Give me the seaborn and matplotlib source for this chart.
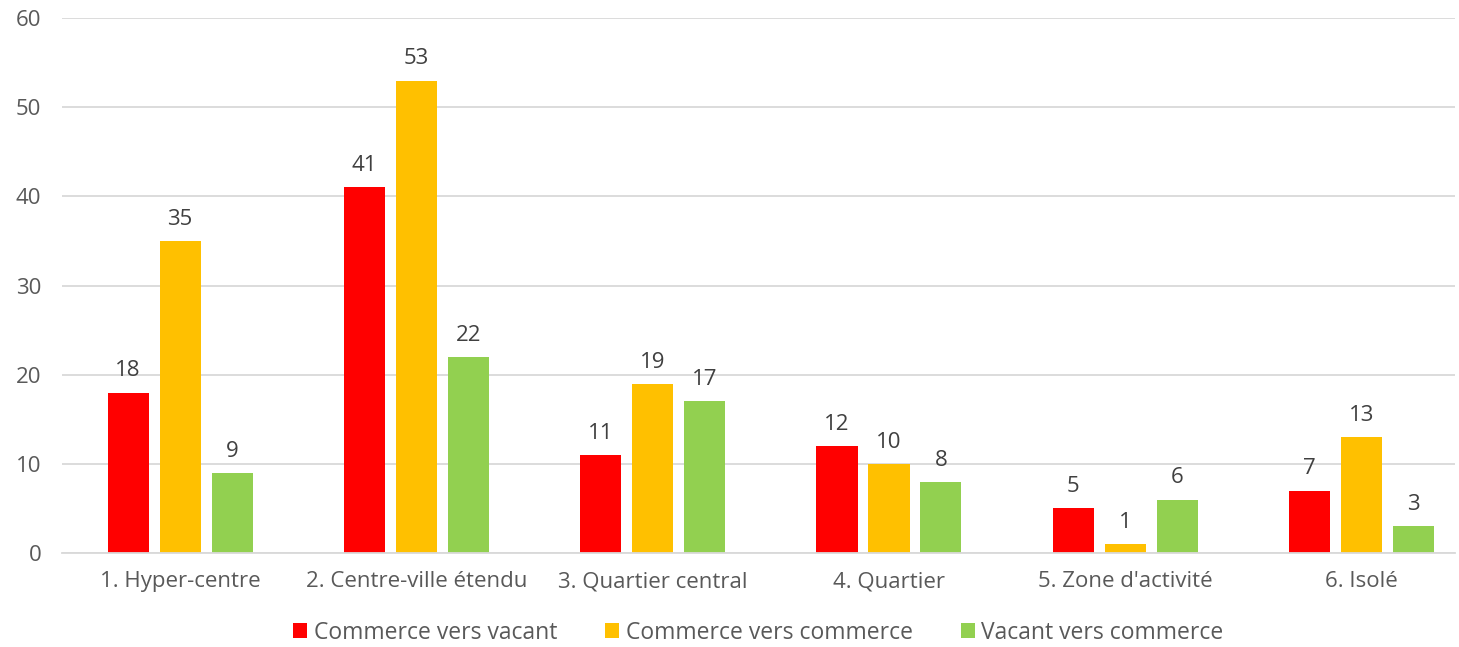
import pandas as pd
import matplotlib.pyplot as plt
import seaborn as sns

categories = ["1. Hyper-centre", "2. Centre-ville étendu", "3. Quartier central",
              "4. Quartier", "5. Zone d'activité", "6. Isolé"]
series_names = ["Commerce vers vacant", "Commerce vers commerce", "Vacant vers commerce"]
commerce_vers_vacant = [18, 41, 11, 12, 5, 7]
commerce_vers_commerce = [35, 53, 19, 10, 1, 13]
vacant_vers_commerce = [9, 22, 17, 8, 6, 3]
colors = ["#FF0000", "#FFC000", "#92D050"]

# long format for seaborn
df = pd.DataFrame({
    "categorie": categories * 3,
    "serie": [series_names[0]] * 6 + [series_names[1]] * 6 + [series_names[2]] * 6,
    "valeur": commerce_vers_vacant + commerce_vers_commerce + vacant_vers_commerce,
})

sns.set_style("white")
plt.rcParams["font.family"] = ["Open Sans", "DejaVu Sans"]

fig = plt.figure(figsize=(14.59, 6.47), dpi=100)
ax = fig.add_axes([0.0425, 0.1453, 0.9545, 0.8267])

sns.barplot(data=df, x="categorie", y="valeur", hue="serie", palette=colors,
            saturation=1, width=0.66, gap=0.21, linewidth=0, ax=ax, legend=True)

for cont in ax.containers:
    ax.bar_label(cont, padding=8, fontsize=16, color="#404040")

ax.set_ylim(0, 60)
ax.set_yticks(range(0, 61, 10))
ax.set_xlim(-0.5, 5.394)
ax.yaxis.grid(True, color="#D9D9D9", linewidth=1.3)
ax.set_axisbelow(True)
for s in ["top", "right", "left"]:
    ax.spines[s].set_visible(False)
ax.spines["bottom"].set_color("#D9D9D9")
ax.spines["bottom"].set_linewidth(1.3)
ax.tick_params(axis="both", length=0, labelsize=16, labelcolor="#595959")
ax.tick_params(axis="x", pad=13)
ax.tick_params(axis="y", pad=15)
ax.set_xlabel("")
ax.set_ylabel("")

ax.legend(loc="upper center", bbox_to_anchor=(0.5, -0.088), ncol=3, frameon=False,
          fontsize=16.5, labelcolor="#595959", handlelength=0.6, handleheight=0.6,
          handletextpad=0.3, columnspacing=2.1)

fig.savefig("out.png", dpi=100)
